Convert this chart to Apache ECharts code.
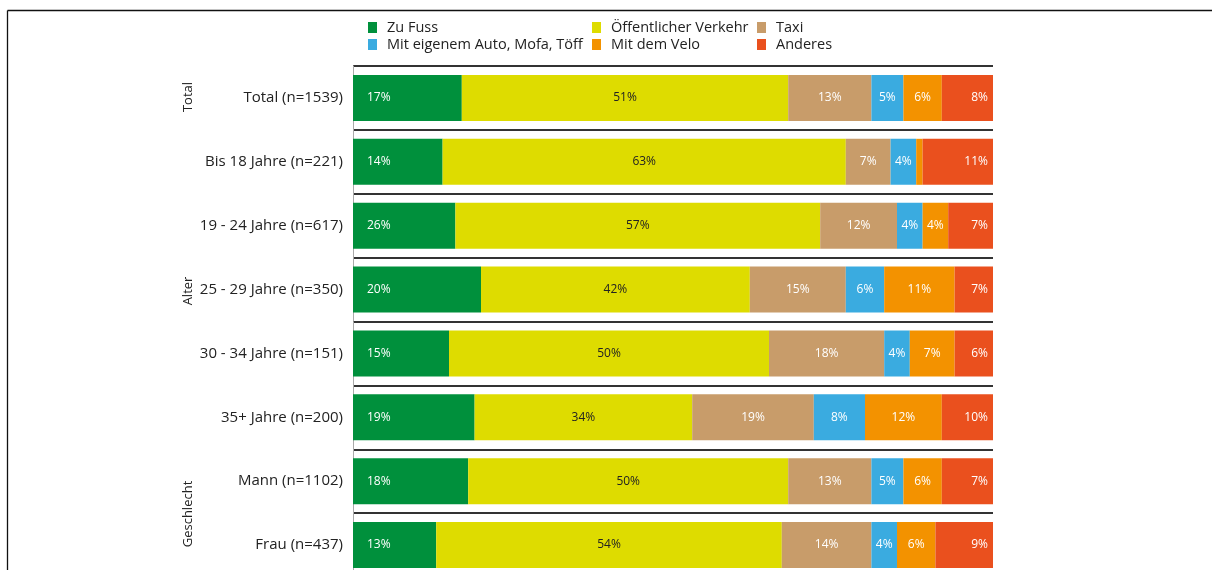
<!DOCTYPE html>
<html>
<head>
<meta charset="utf-8">
<script src="https://cdn.jsdelivr.net/npm/echarts@6/dist/echarts.min.js"></script>
<style>
  html, body { margin: 0; padding: 0; background: #fff; overflow: hidden; }
  #chart { width: 1212px; height: 578px; }
</style>
</head>
<body>
<div id="chart"></div>
<script>
// Kategorien von oben nach unten
const categories = ['Total (n=1539)', 'Bis 18 Jahre (n=221)', '19 - 24 Jahre (n=617)', '25 - 29 Jahre (n=350)',
	'30 - 34 Jahre (n=151)', '35+ Jahre (n=200)', 'Mann (n=1102)', 'Frau (n=437)'];

// Anteile in % (Balkenbreite)
const zuFuss = [17, 14, 16, 20, 15, 19, 18, 13];
const oev = [51, 63, 57, 42, 50, 34, 50, 54];
const taxi = [13, 7, 12, 15, 18, 19, 13, 14];
const auto = [5, 4, 4, 6, 4, 8, 5, 4];
const velo = [6, 1, 4, 11, 7, 12, 6, 6];
const anderes = [8, 11, 7, 7, 6, 10, 8, 9];

// gedruckte Werte, wo sie von der Balkenbreite abweichen
const zuFussPrinted = [17, 14, 26, 20, 15, 19, 18, 13];
const anderesPrinted = [8, 11, 7, 7, 6, 10, 7, 9];

const groups = [
	{ text: 'Total', y: 97 },
	{ text: 'Alter', y: 291 },
	{ text: 'Geschlecht', y: 514 }
];

const colors = {
	'Zu Fuss': '#00903c',
	'Öffentlicher Verkehr': '#dedc00',
	'Taxi': '#c89c6a',
	'Mit eigenem Auto, Mofa, Töff': '#3aabe0',
	'Mit dem Velo': '#f39200',
	'Anderes': '#ea501e'
};

const font = 'Open Sans';

function makeSeries(name, values, printed, position, dark) {
	return {
		name: name,
		type: 'bar',
		stack: 'all',
		barWidth: 46,
		itemStyle: { color: colors[name] },
		label: {
			show: true,
			position: position,
			distance: position === 'insideLeft' ? 14 : 5,
			color: dark ? '#222' : '#fff',
			fontFamily: font,
			fontSize: 12,
			formatter: function (p) {
				const v = printed ? printed[p.dataIndex] : p.value;
				return p.value < 2 ? '' : v + '%';
			}
		},
		data: values
	};
}

function makeLegend(left, names) {
	return {
		orient: 'vertical',
		left: left,
		top: 20,
		padding: 0,
		itemWidth: 9,
		itemHeight: 11,
		itemGap: 2,
		icon: 'rect',
		textStyle: { fontFamily: font, fontSize: 14.5, color: '#222', lineHeight: 15, padding: [0, 0, 0, 5] },
		data: names
	};
}

var chart = echarts.init(document.getElementById('chart'));

option = {
	backgroundColor: '#fff',
	animation: false,
	legend: [
		makeLegend(368, ['Zu Fuss', 'Mit eigenem Auto, Mofa, Töff']),
		makeLegend(592, ['Öffentlicher Verkehr', 'Mit dem Velo']),
		makeLegend(757, ['Taxi', 'Anderes'])
	],
	grid: {
		left: 353,
		right: 219,
		top: 66,
		bottom: 1
	},
	xAxis: {
		type: 'value',
		min: 0,
		max: 100,
		show: false
	},
	yAxis: {
		type: 'category',
		inverse: true,
		data: categories,
		axisTick: { show: false },
		axisLine: { show: true, lineStyle: { color: '#aaa', width: 1 } },
		axisLabel: { margin: 10, fontFamily: font, fontSize: 15, color: '#222' },
		splitLine: { show: true, lineStyle: { color: '#333', width: 2 } }
	},
	graphic: [
		{ type: 'line', shape: { x1: 7.5, y1: 10.5, x2: 1212, y2: 10.5 }, style: { stroke: '#111', lineWidth: 1.3 } },
		{ type: 'line', shape: { x1: 7.5, y1: 10.5, x2: 7.5, y2: 578 }, style: { stroke: '#111', lineWidth: 1.3 } }
	].concat(groups.map(function (g) {
		return {
			type: 'text',
			x: 188,
			y: g.y,
			rotation: Math.PI / 2,
			style: {
				text: g.text,
				fontFamily: font,
				fontSize: 13,
				fill: '#222',
				align: 'center',
				verticalAlign: 'middle'
			}
		};
	})),
	series: [
		makeSeries('Zu Fuss', zuFuss, zuFussPrinted, 'insideLeft', false),
		makeSeries('Öffentlicher Verkehr', oev, null, 'inside', true),
		makeSeries('Taxi', taxi, null, 'inside', false),
		makeSeries('Mit eigenem Auto, Mofa, Töff', auto, null, 'inside', false),
		makeSeries('Mit dem Velo', velo, null, 'inside', false),
		makeSeries('Anderes', anderes, anderesPrinted, 'insideRight', false)
	]
};

chart.setOption(option);

window.onresize = function () {
	chart.resize();
};
</script>
</body>
</html>
